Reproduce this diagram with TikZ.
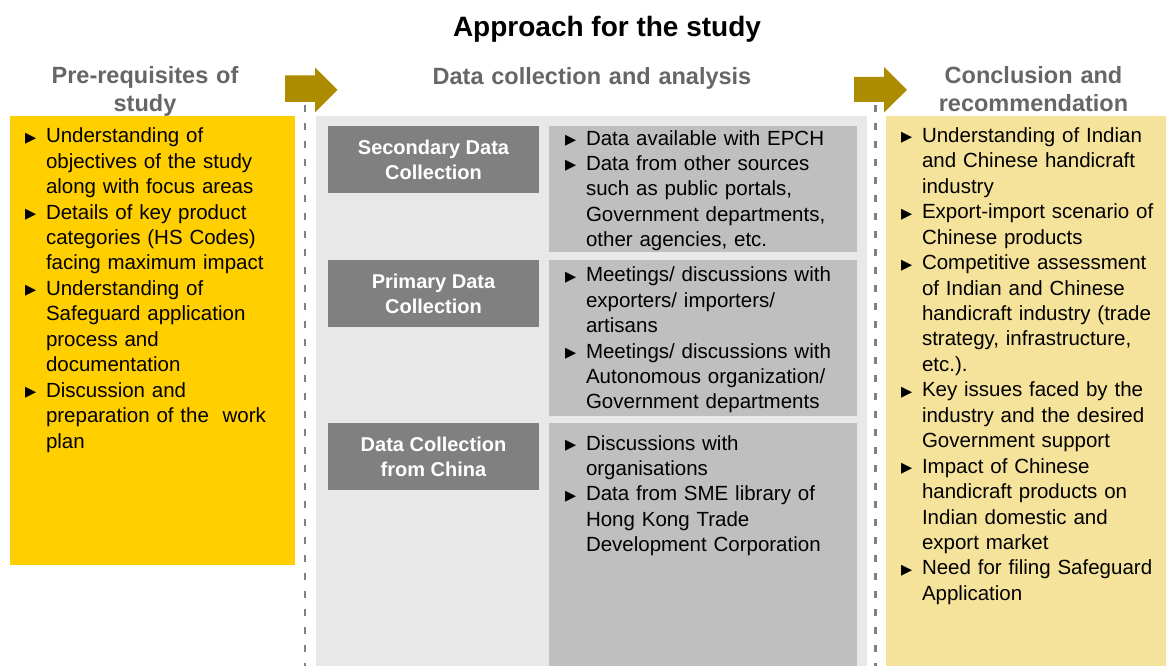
\documentclass[tikz,border=0pt]{standalone}
\usepackage{fontspec}
\setmainfont{Liberation Sans}
\newfontfamily\symfont{DejaVu Sans}
\definecolor{leftyellow}{HTML}{FFCF00}
\definecolor{rightyellow}{HTML}{F5E39B}
\definecolor{panelgray}{HTML}{E8E8E8}
\definecolor{hdrgray}{HTML}{808080}
\definecolor{contgray}{HTML}{BFBFBF}
\definecolor{arrowgold}{HTML}{AD8C00}
\definecolor{dashgray}{HTML}{808080}
\definecolor{headgray}{HTML}{666666}
\newcommand\bulmark{\makebox[21pt][l]{\raisebox{0.5pt}{\symfont\fontsize{14.5}{14.5}\selectfont ▶}}}
\newcommand\bitem[1]{\noindent\hangindent=21pt\hangafter=1\bulmark#1\par}
\begin{document}
\begin{tikzpicture}[x=1pt,y=-1pt,
  every node/.style={inner sep=0pt,outer sep=0pt},
  areabox/.style={anchor=north west,minimum width=#1},
  bodytext/.style={anchor=base west,text width=#1,align=left,
    font=\fontsize{20.5}{25.45}\selectfont},
  hdrlabel/.style={align=center,text=white,font=\bfseries\fontsize{20}{25}\selectfont},
  sechead/.style={anchor=base,text width=400pt,align=center,text=headgray,
    font=\bfseries\fontsize{23.5}{28.3}\selectfont},
  dashline/.style={draw=dashgray,line width=2.6pt,dash pattern=on 7pt off 11pt},
  blockarrow/.style={fill=arrowgold}]
\useasboundingbox (0,0) rectangle (1166,666);
\fill[white] (0,0) rectangle (1166,666);
% title
\node[anchor=base,font=\bfseries\fontsize{28}{32}\selectfont] (title) at (607,37) {Approach for the study};
% section heads
\node[sechead] (h1) at (145,83.3) {Pre-requisites of\\study};
\node[sechead] (h2) at (592,85) {Data collection and analysis};
\node[sechead] (h3) at (1033.5,83.3) {Conclusion and\\recommendation};
% areas
\node[areabox=285pt,minimum height=449pt,fill=leftyellow] (leftbox) at (10,116) {};
\node[areabox=551pt,minimum height=550pt,fill=panelgray] (midbox) at (316,116) {};
\node[areabox=280pt,minimum height=550pt,fill=rightyellow] (rightbox) at (886,116) {};
% dashed separators
\draw[dashline] (305,105) -- (305,666);
\draw[dashline] (875.5,105) -- (875.5,666);
% block arrows
\fill[blockarrow] (285,75.5) -- (315,75.5) -- (315,67.5) -- (337.5,89.8) -- (315,112.3) -- (315,102) -- (285,102) -- cycle;
\fill[blockarrow] (854,77) -- (884,77) -- (884,67) -- (907,89.8) -- (884,112.6) -- (884,102) -- (854,102) -- cycle;
% header boxes
\node[areabox=211pt,minimum height=67pt,fill=hdrgray] (hb1) at (328,126) {};
\node[areabox=211pt,minimum height=67pt,fill=hdrgray] (hb2) at (328,260) {};
\node[areabox=211pt,minimum height=67pt,fill=hdrgray] (hb3) at (328,423) {};
\node[hdrlabel] (hl1) at (hb1.center) {Secondary Data\\Collection};
\node[hdrlabel] (hl2) at (hb2.center) {Primary Data\\Collection};
\node[hdrlabel] (hl3) at (hb3.center) {Data Collection\\from China};
% content boxes
\node[areabox=308pt,minimum height=126pt,fill=contgray] (cb1) at (549,126) {};
\node[areabox=308pt,minimum height=156pt,fill=contgray] (cb2) at (549,260) {};
\node[areabox=308pt,minimum height=243pt,fill=contgray] (cb3) at (549,423) {};
% texts
\node[bodytext=275pt] (lefttext) at (25,142.7) {%
\bitem{Understanding of\newline objectives of the study\newline along with focus areas}%
\bitem{Details of key product\newline categories (HS Codes)\newline facing maximum impact}%
\bitem{Understanding of\newline Safeguard application\newline process and\newline documentation}%
\bitem{Discussion and\newline preparation of the\ \ work\newline plan}};
\node[bodytext=300pt] (ct1) at (565,145) {%
\bitem{Data available with EPCH}%
\bitem{Data from other sources\newline such as public portals,\newline Government departments,\newline other agencies, etc.}};
\node[bodytext=300pt] (ct2) at (565,281.7) {%
\bitem{Meetings/ discussions with\newline exporters/ importers/\newline artisans}%
\bitem{Meetings/ discussions with\newline Autonomous organization/\newline Government departments}};
\node[bodytext=300pt] (ct3) at (565,450) {%
\bitem{Discussions with\newline organisations}%
\bitem{Data from SME library of\newline Hong Kong Trade\newline Development Corporation}};
\node[bodytext=270pt] (righttext) at (901,142.3) {%
\bitem{Understanding of Indian\newline and Chinese handicraft\newline industry}%
\bitem{Export-import scenario of\newline Chinese products}%
\bitem{Competitive assessment\newline of Indian and Chinese\newline handicraft industry (trade\newline strategy, infrastructure,\newline etc.).}%
\bitem{Key issues faced by the\newline industry and the desired\newline Government support}%
\bitem{Impact of Chinese\newline handicraft products on\newline Indian domestic and\newline export market}%
\bitem{Need for filing Safeguard\newline Application}};
\end{tikzpicture}
\end{document}
